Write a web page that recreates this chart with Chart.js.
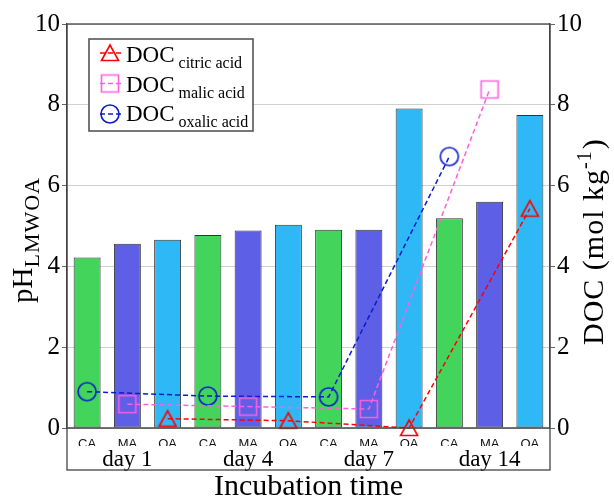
<!DOCTYPE html>
<html><head><meta charset="utf-8">
<script src="https://cdn.jsdelivr.net/npm/chart.js@4.4.1/dist/chart.umd.min.js"></script>
<style>html,body{margin:0;padding:0;background:#fff;} canvas{display:block;}</style>
</head><body>
<canvas id="c" width="614" height="502"></canvas>
<script>
// ---- data ----
const categories = ['CA','MA','OA','CA','MA','OA','CA','MA','OA','CA','MA','OA'];
const dayLabels = ['', 'day 1', '', '', 'day 4', '', '', 'day 7', '', '', 'day 14', ''];
const phValues = [4.22, 4.56, 4.66, 4.78, 4.89, 5.03, 4.91, 4.91, 7.91, 5.19, 5.60, 7.75];
const docCitric = [0.23, 0.18, 0.0, 5.43];
const docMalic  = [0.59, 0.53, 0.47, 8.38];
const docOxalic = [0.90, 0.79, 0.77, 6.72];
const citricPos = [2, 5, 8, 11];
const malicPos  = [1, 4, 7, 10];
const oxalicPos = [0, 3, 6, 9];
const seriesNames = ['citric acid', 'malic acid', 'oxalic acid'];

// ---- styles ----
const acidColor = {CA: '#43d55b', MA: '#5d5fe6', OA: '#2fb8f6'};
const lineColors = ['#ff0000', '#ff5fdc', '#0a1ccc'];

function place(vals, pos) {
  const arr = categories.map(() => null);
  pos.forEach((p, i) => { arr[p] = vals[i]; });
  return arr;
}
function makeMarker(kind, color) {
  const c = document.createElement('canvas');
  c.width = 22; c.height = 22;
  const g = c.getContext('2d');
  g.strokeStyle = color; g.lineWidth = 1.6;
  g.beginPath();
  if (kind === 'tri') { g.moveTo(11, 3); g.lineTo(2.5, 18.5); g.lineTo(19.5, 18.5); g.closePath(); }
  else if (kind === 'sq') { g.rect(2.5, 2.5, 17, 17); }
  else { g.arc(11, 11, 9, 0, Math.PI * 2); }
  g.stroke();
  return c;
}
const markers = [makeMarker('tri', lineColors[0]), makeMarker('sq', lineColors[1]), makeMarker('circ', lineColors[2])];

function lineDs(label, vals, pos, i) {
  return {
    type: 'line', label: label, data: place(vals, pos), yAxisID: 'y2', xAxisID: 'x',
    borderColor: lineColors[i], borderWidth: 1.5, borderDash: [5, 3], fill: false,
    pointStyle: markers[i], pointRadius: 9, pointHoverRadius: 9, spanGaps: true,
    tension: 0, clip: false, order: 1
  };
}

const framePlugin = {
  id: 'frame',
  afterDraw(chart) {
    const ctx = chart.ctx, a = chart.chartArea;
    ctx.save();
    ctx.strokeStyle = '#444'; ctx.lineWidth = 1.3;
    ctx.strokeRect(a.left, a.top, a.right - a.left, 470 - a.top);
    ctx.beginPath(); ctx.moveTo(a.left, a.bottom); ctx.lineTo(a.right, a.bottom); ctx.stroke();

    // legend
    const bx = 89, by = 39, bw = 164, bh = 92;
    ctx.fillStyle = '#fff'; ctx.fillRect(bx, by, bw, bh);
    ctx.strokeStyle = '#555'; ctx.lineWidth = 1.6; ctx.strokeRect(bx, by, bw, bh);
    const rows = [53, 83.5, 114];
    const base = [62, 92, 121];
    rows.forEach((yy, i) => {
      ctx.save();
      ctx.strokeStyle = lineColors[i]; ctx.lineWidth = 1.5; ctx.setLineDash([5, 3]);
      ctx.beginPath(); ctx.moveTo(100, yy); ctx.lineTo(121, yy); ctx.stroke();
      ctx.restore();
      ctx.drawImage(markers[i], 110 - 11, yy - 11);
      ctx.fillStyle = '#000'; ctx.textBaseline = 'alphabetic'; ctx.textAlign = 'left';
      ctx.font = '23px "Liberation Serif"';
      ctx.fillText('DOC', 126, base[i]);
      const w = ctx.measureText('DOC').width;
      ctx.font = '16px "Liberation Serif"';
      ctx.fillText(seriesNames[i], 126 + w + 4, base[i] + 6);
    });

    // axis titles
    ctx.fillStyle = '#000';
    ctx.save();
    ctx.translate(32, 303); ctx.rotate(-Math.PI / 2);
    ctx.textAlign = 'left'; ctx.textBaseline = 'alphabetic';
    ctx.font = '29px "Liberation Serif"';
    ctx.fillText('pH', 0, 0);
    const w1 = ctx.measureText('pH').width;
    ctx.font = '22px "Liberation Serif"';
    ctx.letterSpacing = '1px';
    ctx.fillText('LMWOA', w1, 7);
    ctx.letterSpacing = '0px';
    ctx.restore();

    ctx.save();
    ctx.translate(603, 345); ctx.rotate(-Math.PI / 2);
    ctx.textAlign = 'left'; ctx.textBaseline = 'alphabetic';
    ctx.letterSpacing = '1px';
    ctx.font = '30px "Liberation Serif"';
    ctx.fillText('DOC (mol kg', 0, 0);
    let w2 = ctx.measureText('DOC (mol kg').width;
    ctx.font = '20px "Liberation Serif"';
    ctx.fillText('-1', w2, -12);
    w2 += ctx.measureText('-1').width + 1;
    ctx.font = '30px "Liberation Serif"';
    ctx.fillText(')', w2, 0);
    ctx.letterSpacing = '0px';
    ctx.restore();
    ctx.restore();
  }
};

const yTickFont = {family: 'Liberation Serif', size: 25};
new Chart(document.getElementById('c'), {
  type: 'bar',
  data: {
    labels: categories,
    datasets: [
      lineDs('DOC citric acid', docCitric, citricPos, 0),
      lineDs('DOC malic acid', docMalic, malicPos, 1),
      lineDs('DOC oxalic acid', docOxalic, oxalicPos, 2),
      {
        type: 'bar', label: 'pH', data: phValues, yAxisID: 'y', xAxisID: 'x',
        backgroundColor: categories.map(c => acidColor[c]),
        borderColor: '#333', borderWidth: 1, borderSkipped: false,
        barPercentage: 0.67, categoryPercentage: 1.0, order: 5
      }
    ]
  },
  options: {
    responsive: false, animation: false,
    layout: {padding: {top: 24, right: 0, bottom: 0, left: 0}},
    plugins: {legend: {display: false}, tooltip: {enabled: false}},
    scales: {
      x: {
        type: 'category', position: 'bottom', weight: 0,
        grid: {display: false, drawTicks: false},
        border: {display: false},
        ticks: {font: {family: 'Liberation Sans', size: 13}, color: '#111', padding: 9, autoSkip: false, maxRotation: 0},
        afterFit(s) { s.height = 18; }
      },
      x2: {
        type: 'category', position: 'bottom', weight: 1, labels: dayLabels,
        grid: {display: false, drawTicks: false},
        border: {display: false},
        ticks: {font: {family: 'Liberation Serif', size: 23}, color: '#000', padding: 0, autoSkip: false, maxRotation: 0},
        title: {display: true, text: 'Incubation time', font: {family: 'Liberation Serif', size: 30, lineHeight: 1}, color: '#000', padding: {top: 0, bottom: 0}},
        afterFit(s) { s.height = 56; }
      },
      y: {
        position: 'left', min: 0, max: 10,
        ticks: {stepSize: 2, font: yTickFont, color: '#000', padding: 2},
        grid: {color: '#c4c4c4', lineWidth: 0.8, tickColor: '#666', tickLength: 5, tickBorderDash: [], tickWidth: 1},
        border: {display: true, color: '#444', width: 1.3},
        afterFit(s) { s.width = 67; }
      },
      y2: {
        position: 'right', min: 0, max: 10,
        ticks: {stepSize: 2, font: yTickFont, color: '#000', padding: 2},
        grid: {drawOnChartArea: false, color: '#666', tickLength: 5},
        border: {display: true, color: '#444', width: 1.3},
        afterFit(s) { s.width = 64; }
      }
    }
  },
  plugins: [framePlugin]
});
</script>
</body></html>
